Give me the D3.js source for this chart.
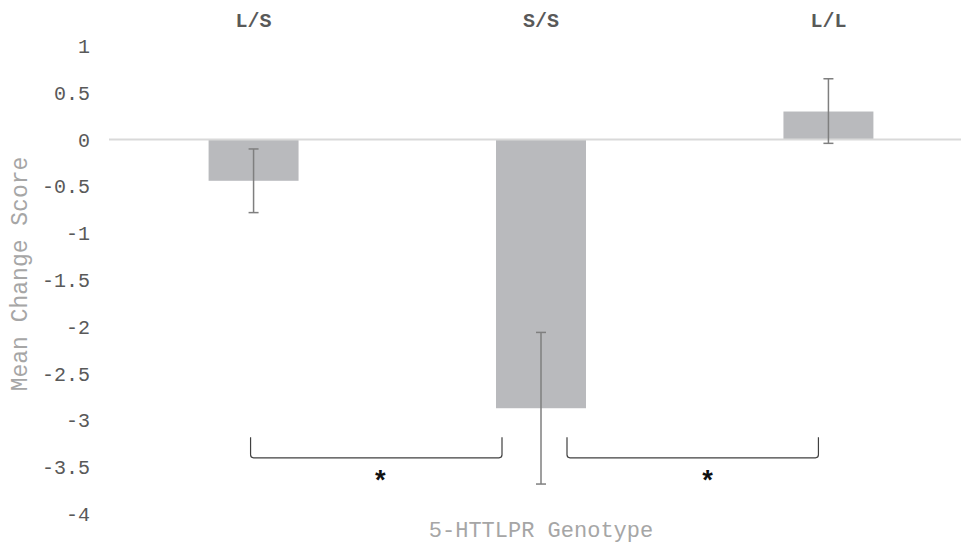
<!DOCTYPE html>
<html>
<head>
<meta charset="utf-8">
<script src="https://cdn.jsdelivr.net/npm/d3@7/dist/d3.min.js"></script>
<style>
  body { margin: 0; background: #fff; }
  svg text { font-family: "Liberation Mono", "Courier New", monospace; }
</style>
</head>
<body>
<svg id="chart" width="961" height="545"></svg>
<script>
// genotype groups and their mean change scores
const genotypes = ['L/S', 'S/S', 'L/L'];
const meanScores = [-0.44, -2.87, 0.30];
const errorLow = [-0.78, -3.68, -0.04];
const errorHigh = [-0.10, -2.06, 0.65];
const yTicks = [1, 0.5, 0, -0.5, -1, -1.5, -2, -2.5, -3, -3.5, -4];
// significance brackets between groups
const comparisons = [['L/S', 'S/S'], ['S/S', 'L/L']];

const svg = d3.select('#chart');

const x = d3.scaleBand()
    .domain(genotypes)
    .range([110, 972])
    .paddingInner(0.687)
    .paddingOuter(0.343);

const y = d3.scaleLinear()
    .domain([-4, 1])
    .range([514, 46]);

const cx = g => x(g) + x.bandwidth() / 2;

// y axis labels (no line, no ticks)
svg.append('g')
    .attr('class', 'y-axis')
    .attr('transform', 'translate(90,0)')
    .call(d3.axisLeft(y).tickValues(yTicks).tickSize(0).tickPadding(0)
        .tickFormat(d => d3.format('')(d).replace('−', '-')))
    .call(g => g.select('.domain').remove())
    .call(g => g.selectAll('text')
        .attr('font-family', '"Liberation Mono", monospace')
        .attr('font-size', 20)
        .attr('fill', '#595959'));

// bars
svg.append('g')
    .selectAll('rect')
    .data(genotypes)
    .enter()
    .append('rect')
    .attr('x', d => x(d))
    .attr('width', x.bandwidth())
    .attr('y', (d, i) => y(Math.max(0, meanScores[i])))
    .attr('height', (d, i) => Math.abs(y(meanScores[i]) - y(0)))
    .attr('fill', '#b9babd');

// zero line
svg.append('line')
    .attr('x1', 109)
    .attr('x2', 961)
    .attr('y1', y(0))
    .attr('y2', y(0))
    .attr('stroke', '#d9d9d9')
    .attr('stroke-width', 2);

// error bars
const err = svg.append('g')
    .attr('stroke', '#7f7f7f')
    .attr('stroke-width', 1.5);
genotypes.forEach((g, i) => {
    err.append('line')
        .attr('x1', cx(g)).attr('x2', cx(g))
        .attr('y1', y(errorHigh[i])).attr('y2', y(errorLow[i]));
    [errorHigh[i], errorLow[i]].forEach(v => {
        err.append('line')
            .attr('x1', cx(g) - 5).attr('x2', cx(g) + 5)
            .attr('y1', y(v)).attr('y2', y(v));
    });
});

// category labels on top
svg.append('g')
    .selectAll('text')
    .data(genotypes)
    .enter()
    .append('text')
    .attr('x', d => cx(d))
    .attr('y', 22)
    .attr('text-anchor', 'middle')
    .attr('dominant-baseline', 'middle')
    .attr('font-size', 20)
    .attr('font-weight', 'bold')
    .attr('fill', '#595959')
    .text(d => d);

// significance brackets
const bTop = y(-3.18), bBot = y(-3.40), r = 3;
const starShift = [4, 15];
comparisons.forEach(([a, b], i) => {
    const x1 = i === 0 ? cx(a) - 3 : cx(a) + 26;
    const x2 = i === 0 ? cx(b) - 39 : cx(b) - 10;
    svg.append('path')
        .attr('d', `M${x1},${bTop} L${x1},${bBot - r} Q${x1},${bBot} ${x1 + r},${bBot}
                    L${x2 - r},${bBot} Q${x2},${bBot} ${x2},${bBot - r} L${x2},${bTop}`)
        .attr('fill', 'none')
        .attr('stroke', '#404040')
        .attr('stroke-width', 1.2);
    svg.append('text')
        .attr('x', (x1 + x2) / 2 + starShift[i])
        .attr('y', y(-3.63) + 11)
        .attr('text-anchor', 'middle')
        .attr('font-size', 27)
        .attr('font-weight', 'bold')
        .attr('fill', '#111')
        .text('*');
});

// axis titles
svg.append('text')
    .attr('transform', 'translate(27,274) rotate(-90)')
    .attr('text-anchor', 'middle')
    .attr('font-size', 23)
    .attr('fill', '#a6a6a6')
    .text('Mean Change Score');

svg.append('text')
    .attr('x', 541)
    .attr('y', 537)
    .attr('text-anchor', 'middle')
    .attr('font-size', 22)
    .attr('fill', '#a6a6a6')
    .text('5-HTTLPR Genotype');
</script>
</body>
</html>
